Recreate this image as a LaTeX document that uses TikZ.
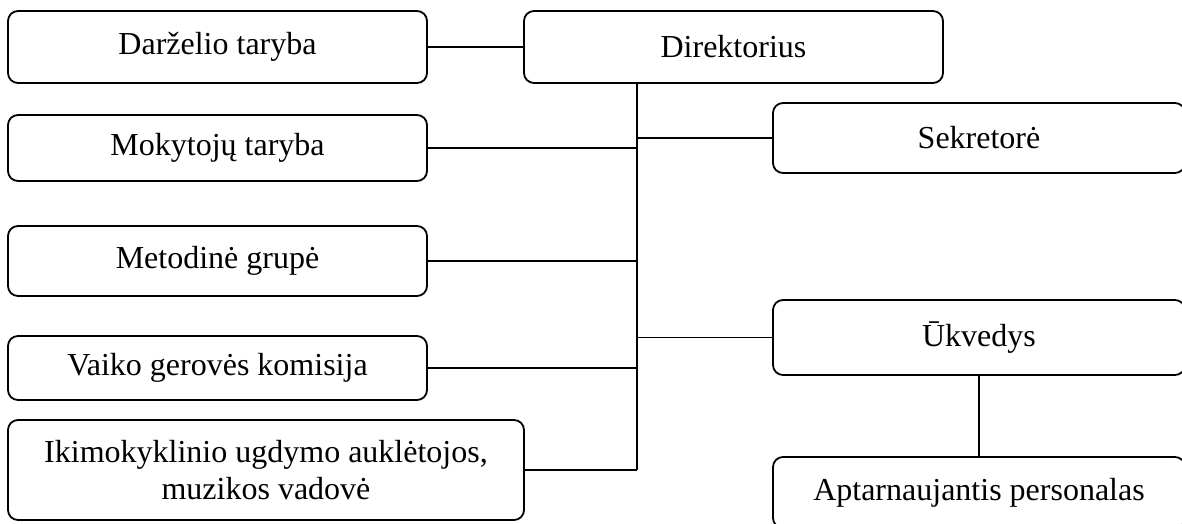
\documentclass[tikz,border=0pt]{standalone}
\usepackage{fontspec}
\setmainfont{Liberation Serif}
\begin{document}
\begin{tikzpicture}[x=1pt,y=-1pt,
  orgbox/.style={draw, line width=1.8pt, rounded corners=10pt, inner sep=0pt,
    align=center, font=\fontsize{32}{37}\selectfont},
  link/.style={draw, line width=1.4pt}]
\useasboundingbox (0,0) rectangle (1182,524);
\fill[white] (0,0) rectangle (1182,524);
% left column
\node[orgbox, minimum width=419pt, minimum height=72pt] (dar) at (217.5,47) {Daržel\-io taryba};
\node[orgbox, minimum width=419pt, minimum height=66pt] (mok) at (217.5,148) {Mokytojų taryba};
\node[orgbox, minimum width=419pt, minimum height=70pt] (met) at (217.5,261) {Metodinė grupė};
\node[orgbox, minimum width=419pt, minimum height=64pt] (vai) at (217.5,368) {Vaiko gerovės komisija};
\node[orgbox, minimum width=516pt, minimum height=100pt] (iki) at (266,470) {Ikimokyklinio ugdymo auklėtojos,\\muzikos vadovė};
% centre / right
\node[orgbox, minimum width=419pt, minimum height=72pt] (dir) at (733.5,47) {Direktorius};
\node[orgbox, minimum width=412pt, minimum height=70pt] (sek) at (979,138) {Sekretorė};
\node[orgbox, minimum width=412pt, minimum height=75pt] (ukv) at (979,337.5) {Ūkvedys};
\node[orgbox, minimum width=412pt, minimum height=71pt] (apt) at (979,492.5) {Aptarnaujantis personalas};
% trunk
\coordinate (tb) at (637,470);
\draw[link] (dir.south -| tb) -- (tb);
\draw[link] (dar.east) -- (dir.west);
\draw[link] (mok.east) -- (mok.east -| tb);
\draw[link] (met.east) -- (met.east -| tb);
\draw[link] (vai.east) -- (vai.east -| tb);
\draw[link] (iki.east) -- (tb);
\draw[link] (sek.west) -- (sek.west -| tb);
\draw[link] (ukv.west) -- (ukv.west -| tb);
\draw[link] (ukv.south) -- (apt.north);
\end{tikzpicture}
\end{document}
